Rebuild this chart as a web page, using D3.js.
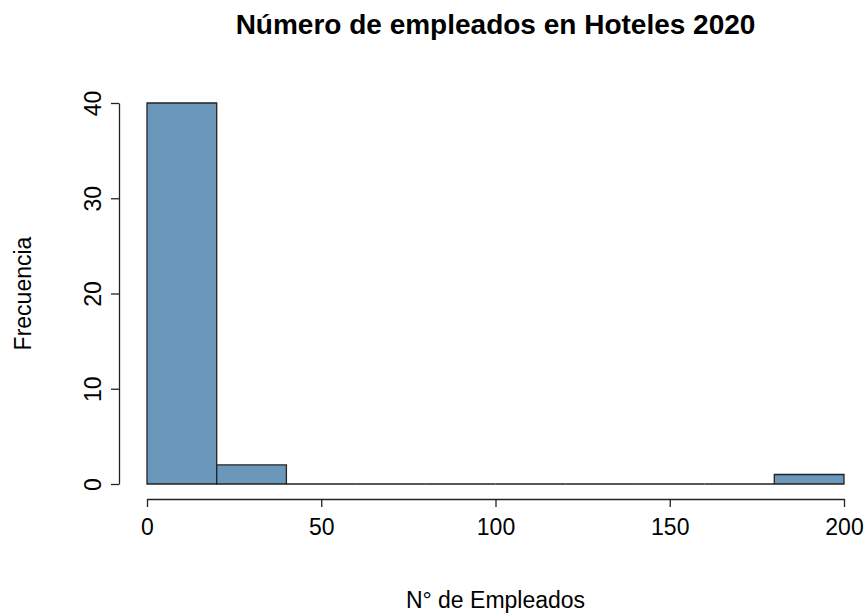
<!DOCTYPE html>
<html>
<head>
<meta charset="utf-8">
<script src="https://cdn.jsdelivr.net/npm/d3@7"></script>
<style>
	body { margin: 0; background: #fff; }
	text { font-family: "Liberation Sans", Arial, sans-serif; fill: #000; }
</style>
</head>
<body>
<div id="chart-area"></div>
<script>

// bin edges and counts of the histogram
let binStarts = [0, 20, 40, 60, 80, 100, 120, 140, 160, 180];
let binWidth = 20;
let counts = [40, 2, 0, 0, 0, 0, 0, 0, 0, 1];
let xTicks = [0, 50, 100, 150, 200];
let yTicks = [0, 10, 20, 30, 40];

let bins = binStarts.map((s, i) => ({ x0: s, x1: s + binWidth, n: counts[i] }));


//**************** Canvas *****************//

let svg = d3.select('#chart-area').append('svg')
	.attr('width', 864)
	.attr('height', 614);

let plotLeft = 147, plotRight = 844, plotTop = 103, plotBottom = 484;

let x = d3.scaleLinear().domain([0, 200]).range([plotLeft, plotRight]);
let y = d3.scaleLinear().domain([0, 40]).range([plotBottom, plotTop]);


//**************** Bars *****************//

// paths instead of rects so empty bins still show as a flat line
svg.selectAll('path.bar')
	.data(bins)
	.enter().append('path')
		.attr('class', 'bar')
		.attr('d', d => 'M' + x(d.x0) + ',' + y(0) +
			'V' + y(d.n) + 'H' + x(d.x1) + 'V' + y(0) + 'Z')
		.attr('fill', '#6b97ba')
		.attr('stroke', '#222')
		.attr('stroke-width', 1.3);


//**************** Axes *****************//

// X axis, R style: line spans first to last tick, offset below
let xAxis = svg.append('g')
	.attr('transform', 'translate(0, 499)')
	.call(d3.axisBottom(x).tickValues(xTicks).tickSize(8).tickSizeOuter(0).tickPadding(12));

// Y axis
let yAxis = svg.append('g')
	.attr('transform', 'translate(119, 0)')
	.call(d3.axisLeft(y).tickValues(yTicks).tickSize(8).tickSizeOuter(0));

// rotated tick labels like R's default las=0
yAxis.selectAll('.tick text')
	.attr('x', -18)
	.attr('y', 0)
	.attr('dy', '0')
	.attr('text-anchor', 'middle')
	.attr('transform', 'rotate(-90, -18, 0)');

svg.selectAll('.domain, .tick line')
	.attr('stroke', '#222')
	.attr('stroke-width', 1.3);

svg.selectAll('.tick text')
	.attr('font-size', '23px')
	.attr('fill', '#222');

xAxis.selectAll('.tick text').attr('dy', '0.71em');


//**************** Labels *****************//

svg.append('text')
	.attr('x', (plotLeft + plotRight) / 2)
	.attr('y', 34)
	.attr('text-anchor', 'middle')
	.attr('font-size', '28px')
	.attr('font-weight', 'bold')
	.text('Número de empleados en Hoteles 2020');

svg.append('text')
	.attr('x', (plotLeft + plotRight) / 2)
	.attr('y', 608)
	.attr('text-anchor', 'middle')
	.attr('font-size', '23px')
	.attr('fill', '#222')
	.text('N° de Empleados');

svg.append('text')
	.attr('transform', 'translate(31, ' + (plotTop + plotBottom) / 2 + ') rotate(-90)')
	.attr('text-anchor', 'middle')
	.attr('font-size', '23px')
	.attr('fill', '#222')
	.text('Frecuencia');

</script>
</body>
</html>
